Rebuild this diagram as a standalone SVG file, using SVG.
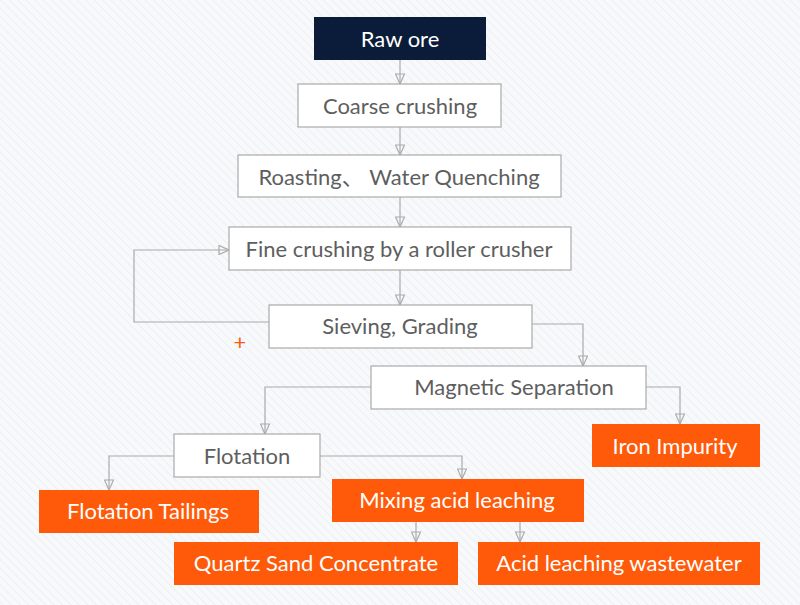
<svg xmlns="http://www.w3.org/2000/svg" width="800" height="605" viewBox="0 0 800 605">
<defs>
<pattern id="bg" width="6" height="6" patternUnits="userSpaceOnUse" patternTransform="rotate(-45)">
<rect width="6" height="6" fill="#f8f9fb"/>
<line x1="0" y1="0" x2="0" y2="6" stroke="#eceff4" stroke-width="2"/>
</pattern>
<marker id="ar" viewBox="0 0 12 10" refX="11" refY="5" markerWidth="12" markerHeight="10" markerUnits="userSpaceOnUse" orient="auto">
<path d="M1,0.5 L11,5 L1,9.5 Z" fill="none" stroke="#aaaaaa" stroke-width="1.2"/>
</marker>
<style>
.w{fill:#ffffff;stroke:#aaaaaa;stroke-width:1.2}
.o{fill:#fe5a0a}
.d{fill:#0b1c3a}
.t{font-family:Lato,"Noto Sans","Noto Sans CJK SC",sans-serif;font-size:22px;text-anchor:middle;dominant-baseline:central}
.tg{fill:#5e5e5e}
.tw{fill:#ffffff}
.c{fill:none;stroke:#aaaaaa;stroke-width:1.2;marker-end:url(#ar)}
</style>
</defs>
<rect width="800" height="605" fill="url(#bg)"/>
<g id="connectors">
<path class="c" d="M400,60 V84"/>
<path class="c" d="M400,127 V155"/>
<path class="c" d="M400,197 V227"/>
<path class="c" d="M400,270 V305"/>
<path class="c" d="M269,322 H134 V250 H229"/>
<path class="c" d="M532,324 H583 V366"/>
<path class="c" d="M371,387 H265 V434"/>
<path class="c" d="M646,387 H680 V424"/>
<path class="c" d="M174,456 H109 V490"/>
<path class="c" d="M320,456 H462 V479"/>
<path class="c" d="M416,522 V542"/>
<path class="c" d="M520,522 V542"/>
</g>
<g id="raw-ore"><rect class="d" x="314" y="17" width="172" height="43"/><text class="t tw" x="400" y="38">Raw ore</text></g>
<g id="coarse-crushing"><rect class="w" x="298" y="84" width="203" height="43"/><text class="t tg" x="400" y="105">Coarse crushing</text></g>
<g id="roasting"><rect class="w" x="238" y="155" width="323" height="42"/><text class="t tg" x="399" y="176">Roasting、 Water Quenching</text></g>
<g id="fine-crushing"><rect class="w" x="229" y="227" width="342" height="43"/><text class="t tg" x="399" y="248">Fine crushing by a roller crusher</text></g>
<g id="sieving"><rect class="w" x="269" y="305" width="263" height="43"/><text class="t tg" x="400" y="325">Sieving, Grading</text></g>
<g id="magnetic"><rect class="w" x="371" y="366" width="275" height="43"/><text class="t tg" x="514" y="386">Magnetic Separation</text></g>
<g id="iron"><rect class="o" x="592" y="424" width="168" height="43"/><text class="t tw" x="675" y="445">Iron Impurity</text></g>
<g id="flotation"><rect class="w" x="174" y="434" width="146" height="43"/><text class="t tg" x="247" y="455">Flotation</text></g>
<g id="tailings"><rect class="o" x="39" y="490" width="220" height="43"/><text class="t tw" x="148" y="510">Flotation Tailings</text></g>
<g id="mixing"><rect class="o" x="332" y="479" width="252" height="43"/><text class="t tw" x="457" y="499">Mixing acid leaching</text></g>
<g id="quartz"><rect class="o" x="174" y="542" width="284" height="43"/><text class="t tw" x="316" y="562">Quartz Sand Concentrate</text></g>
<g id="wastewater"><rect class="o" x="478" y="542" width="282" height="43"/><text class="t tw" x="619" y="562">Acid leaching wastewater</text></g>
<text x="240" y="341" font-family="Lato,sans-serif" font-size="22" fill="#fe5a0a" text-anchor="middle" dominant-baseline="central">+</text>
</svg>
